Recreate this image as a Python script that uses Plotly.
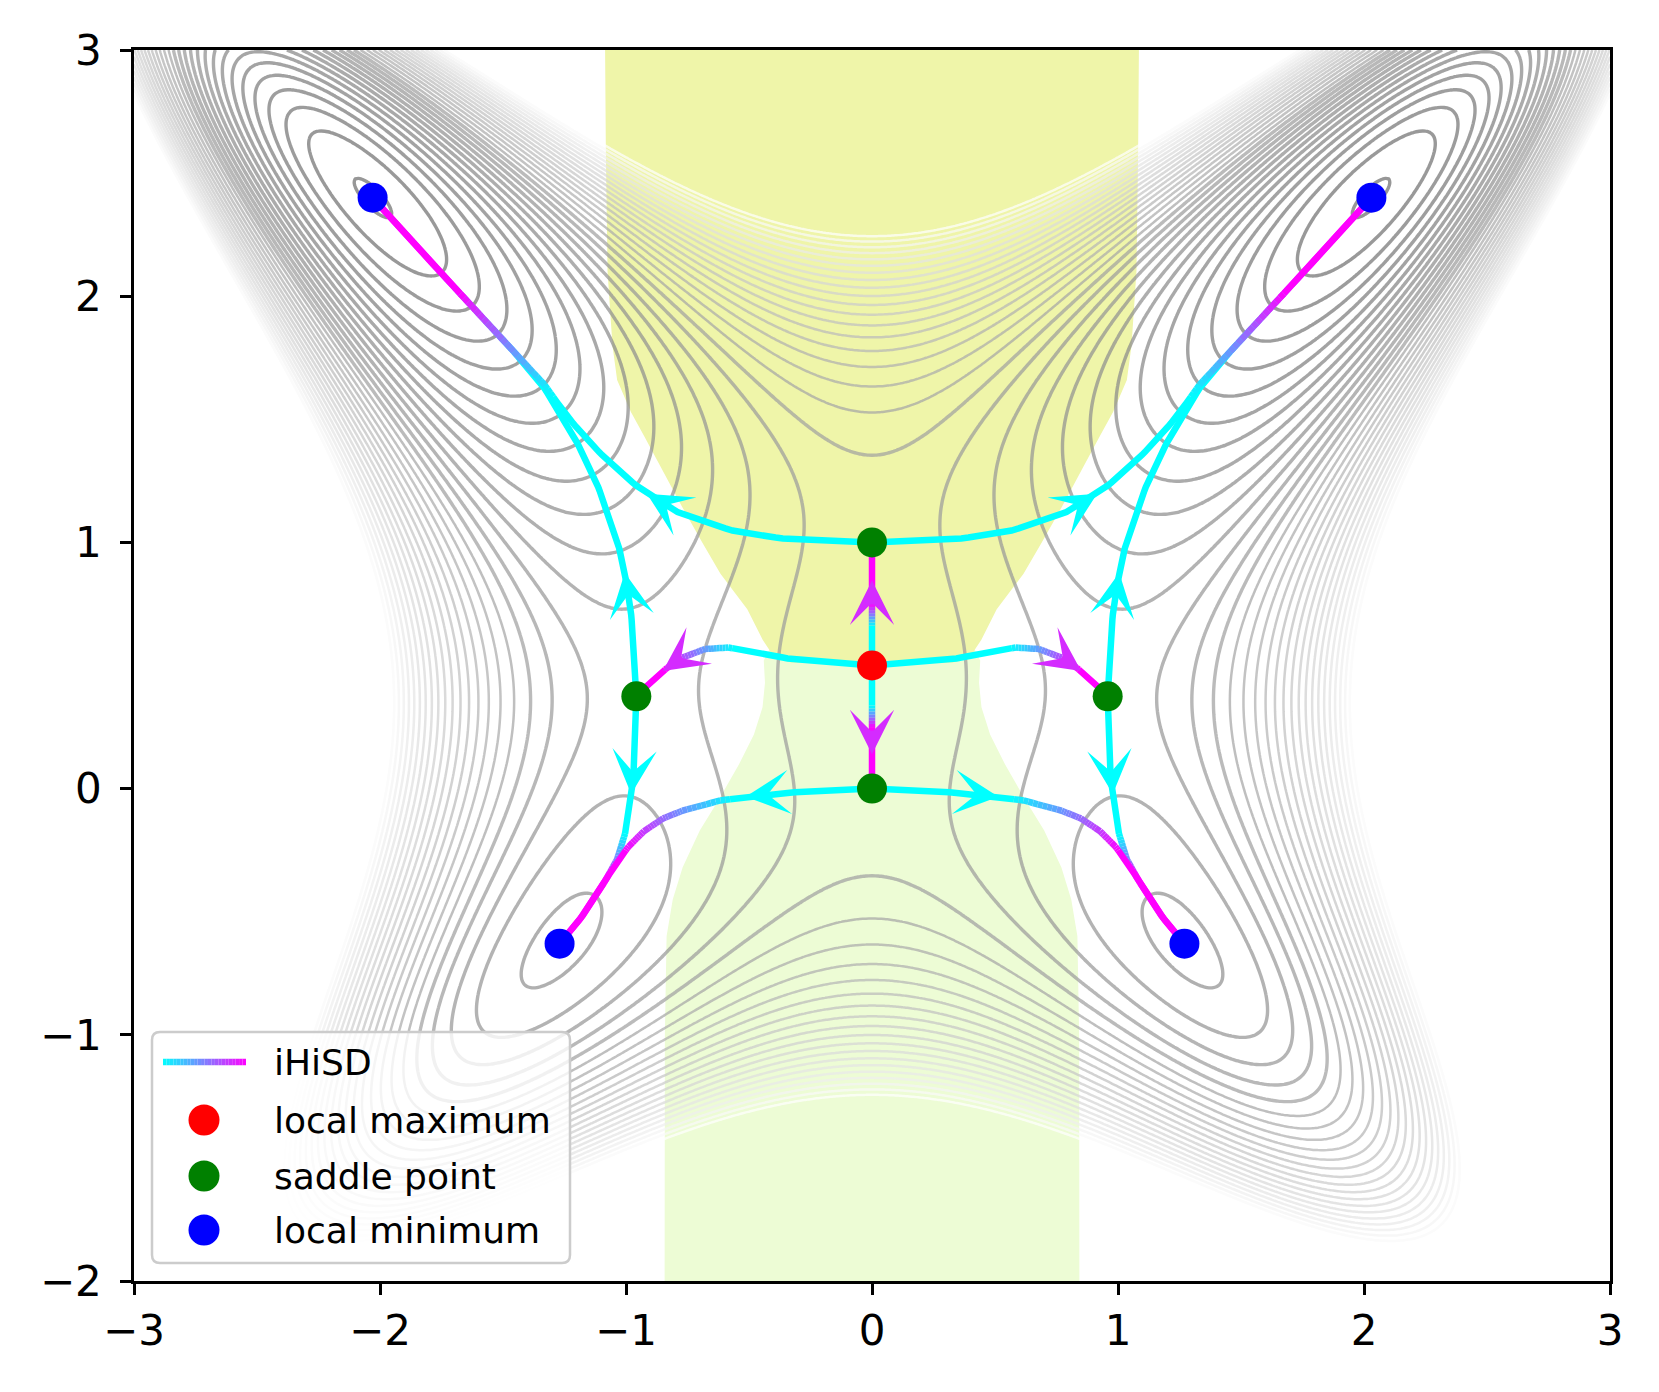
import numpy as np
import plotly.graph_objects as go

# ---- critical points ----
max_x = [0.0]
max_y = [0.5]
saddle_x = [0.0, 0.0, -0.958, 0.958]
saddle_y = [1.0, 0.0, 0.375, 0.375]
min_x = [-2.03, 2.03, -1.27, 1.27]
min_y = [2.40, 2.40, -0.63, -0.63]

# ---- energy landscape: E = (x^2 - (c0 + c1 y + c2 y^2))^2 + d1 y + d2 y^2 + d3 y^3 + d4 y^4
valley = [1.0, -0.5, 0.75]
tilt = [1.0, -0.75, -1.25, 0.4375]
level_start, level_end, level_step = -4.65, 9.2, 0.42

# ---- iHiSD trajectories, left half ----
p1_x = [0.0, -0.304, -0.538, -0.771, -0.927, -1.051, -1.144, -1.238, -1.331, -1.456, -1.580, -1.705, -1.860, -2.03]
p1_y = [1.0, 1.008, 1.039, 1.112, 1.205, 1.308, 1.402, 1.510, 1.640, 1.775, 1.909, 2.044, 2.212, 2.40]
p3_x = [-0.958, -0.966, -0.981, -1.004, -1.028, -1.067, -1.113, -1.168, -1.238, -1.331, -1.456, -1.580, -1.705, -1.860, -2.03]
p3_y = [0.375, 0.563, 0.728, 0.873, 0.977, 1.101, 1.225, 1.350, 1.474, 1.625, 1.775, 1.909, 2.044, 2.212, 2.40]
p4_x = [-0.958, -0.961, -0.970, -0.986, -1.004, -1.036, -1.082, -1.144, -1.207, -1.27]
p4_y = [0.375, 0.210, 0.045, -0.080, -0.183, -0.287, -0.370, -0.473, -0.556, -0.63]
p5_x = [0.0, -0.227, -0.460, -0.616, -0.771, -0.849, -0.927, -0.989, -1.036, -1.082, -1.144, -1.207, -1.27]
p5_y = [0.0, -0.007, -0.028, -0.048, -0.090, -0.121, -0.173, -0.235, -0.297, -0.370, -0.473, -0.556, -0.63]
p6_x = [0.0, -0.304, -0.460, -0.584, -0.678, -0.771, -0.833, -0.896, -0.958]
p6_y = [0.5, 0.521, 0.552, 0.573, 0.567, 0.532, 0.490, 0.438, 0.375]
# right half
q1_x = [0.0, 0.304, 0.538, 0.771, 0.927, 1.051, 1.144, 1.238, 1.331, 1.456, 1.580, 1.705, 1.860, 2.03]
q1_y = [1.0, 1.008, 1.039, 1.112, 1.205, 1.308, 1.402, 1.510, 1.640, 1.775, 1.909, 2.044, 2.212, 2.40]
q3_x = [0.958, 0.966, 0.981, 1.004, 1.028, 1.067, 1.113, 1.168, 1.238, 1.331, 1.456, 1.580, 1.705, 1.860, 2.03]
q3_y = [0.375, 0.563, 0.728, 0.873, 0.977, 1.101, 1.225, 1.350, 1.474, 1.625, 1.775, 1.909, 2.044, 2.212, 2.40]
q4_x = [0.958, 0.961, 0.970, 0.986, 1.004, 1.036, 1.082, 1.144, 1.207, 1.27]
q4_y = [0.375, 0.210, 0.045, -0.080, -0.183, -0.287, -0.370, -0.473, -0.556, -0.63]
q5_x = [0.0, 0.227, 0.460, 0.616, 0.771, 0.849, 0.927, 0.989, 1.036, 1.082, 1.144, 1.207, 1.27]
q5_y = [0.0, -0.007, -0.028, -0.048, -0.090, -0.121, -0.173, -0.235, -0.297, -0.370, -0.473, -0.556, -0.63]
q6_x = [0.0, 0.304, 0.460, 0.584, 0.678, 0.771, 0.833, 0.896, 0.958]
q6_y = [0.5, 0.521, 0.552, 0.573, 0.567, 0.532, 0.490, 0.438, 0.375]
# vertical ones from the maximum
p7_x = [0.0, 0.0, 0.0, 0.0, 0.0, 0.0]
p7_y = [0.5, 0.6, 0.7, 0.8, 0.9, 1.0]
p8_x = [0.0, 0.0, 0.0, 0.0, 0.0, 0.0]
p8_y = [0.5, 0.4, 0.3, 0.2, 0.1, 0.0]

# arrows on the trajectories (tip, tail)
arr_tip_x = [-0.915, -1.005, -0.979, -0.514, -0.85, 0.915, 1.005, 0.979, 0.514, 0.85, 0.0, 0.0]
arr_tip_y = [1.198, 0.877, -0.022, -0.033, 0.478, 1.198, 0.877, -0.022, -0.033, 0.478, 0.845, 0.14]
arr_tail_x = [-0.771, -0.981, -0.961, -0.30, -0.78, 0.771, 0.981, 0.961, 0.30, 0.78, 0.0, 0.0]
arr_tail_y = [1.112, 0.728, 0.21, -0.01, 0.527, 1.112, 0.728, 0.21, -0.01, 0.527, 0.76, 0.225]
arr_late = [False, False, False, False, True, False, False, False, False, True, True, True]

# shaded regions (left boundary, mirrored for the right)
top_left_x = [-1.085, -1.082, -1.075, -1.055, -1.036, -0.98, -0.927, -0.85, -0.771, -0.69, -0.616, -0.507, -0.444, -0.398, -0.33, 0.0]
top_left_y = [3.0, 2.6, 2.1, 1.8, 1.66, 1.53, 1.433, 1.29, 1.143, 1.0, 0.873, 0.728, 0.604, 0.535, 0.512, 0.505]
bot_left_x = [-0.843, -0.842, -0.835, -0.81, -0.77, -0.70, -0.62, -0.54, -0.48, -0.445, -0.435, -0.44, -0.40, 0.0]
bot_left_y = [-2.0, -1.0, -0.6, -0.45, -0.32, -0.17, -0.04, 0.10, 0.22, 0.33, 0.43, 0.52, 0.60, 0.60]

x_ticks = [-3, -2, -1, 0, 1, 2, 3]
x_labels = ["\u22123", "\u22122", "\u22121", "0", "1", "2", "3"]
y_ticks = [-2, -1, 0, 1, 2, 3]
y_labels = ["\u22122", "\u22121", "0", "1", "2", "3"]

legend_names = ["iHiSD", "local maximum", "saddle point", "local minimum"]

FONT = "DejaVu Sans"
W, H = 1659, 1392
OFF = 8                      # page body margin
PL, PR, PT, PB = 134, 1610, 50, 1281   # plot box on screen
L, R, T, B = PL - OFF, W - PR + OFF, PT - OFF, H - PB + OFF


def cool(t):
    return "rgb(%d,%d,255)" % (round(255 * t), round(255 * (1 - t)))


# gray of a contour line vs its (normalised) level
gray_t = [0.0, 0.4, 0.7, 1.0]
gray_v = [112, 158, 208, 255]


def gray_at(e):
    t = (e - level_start) / (level_end - level_start)
    g = np.interp(t, gray_t, gray_v)
    return "rgb(%d,%d,%d)" % (g, g, g)


def poly_path(xs, ys):
    return "M " + " L ".join("%.4f,%.4f" % (a, b) for a, b in zip(xs, ys)) + " Z"


fig = go.Figure()
shapes = []

# green / yellow regions, below the contour lines
bx = bot_left_x + [-v for v in bot_left_x[::-1]]
by = bot_left_y + bot_left_y[::-1]
shapes.append(dict(type="path", xref="x", yref="y", layer="below", path=poly_path(bx, by),
                   fillcolor="#edfcd5", line=dict(width=0)))
tx = top_left_x + [-v for v in top_left_x[::-1]]
ty = top_left_y + top_left_y[::-1]
shapes.append(dict(type="path", xref="x", yref="y", layer="below", path=poly_path(tx, ty),
                   fillcolor="#eff5a9", line=dict(width=0)))

# contour lines of the landscape
gx = np.linspace(-3, 3, 481)
gy = np.linspace(-2, 3, 401)
X, Y = np.meshgrid(gx, gy)
Z = (X**2 - (valley[0] + valley[1] * Y + valley[2] * Y**2))**2 \
    + tilt[0] * Y + tilt[1] * Y**2 + tilt[2] * Y**3 + tilt[3] * Y**4
split = level_start + 14 * level_step
for lo, hi, lw in [(level_start, split, 3.4), (split + level_step, level_end, 2.5)]:
    cs = [[f, gray_at(lo + f * (hi - lo))] for f in np.linspace(0, 1, 9)]
    fig.add_trace(go.Contour(
        x=gx, y=gy, z=Z, autocontour=False,
        contours=dict(start=lo, end=hi + 1e-6, size=level_step, coloring="lines"),
        colorscale=cs, zmin=lo, zmax=hi, zauto=False,
        line=dict(width=lw), opacity=0.72, showscale=False, hoverinfo="skip"))

# trajectories, coloured cyan -> magenta along the run
paths = [
    (p1_x, p1_y, 0.58, 0.80), (q1_x, q1_y, 0.58, 0.80),
    (p3_x, p3_y, 0.62, 0.85), (q3_x, q3_y, 0.62, 0.85),
    (p4_x, p4_y, 0.52, 0.72), (q4_x, q4_y, 0.52, 0.72),
    (p5_x, p5_y, 0.37, 0.70), (q5_x, q5_y, 0.37, 0.70),
    (p6_x, p6_y, 0.55, 0.85), (q6_x, q6_y, 0.55, 0.85),
    (p7_x, p7_y, 0.32, 0.50), (p8_x, p8_y, 0.33, 0.50),
]
NB = 40
SUB = 8
bins = {k: ([], []) for k in range(NB + 1)}
for xs, ys, a, b in paths:
    xs = np.asarray(xs, float)
    ys = np.asarray(ys, float)
    d = np.hypot(np.diff(xs), np.diff(ys))
    s = np.concatenate([[0], np.cumsum(d)]) / d.sum()
    cur_k, run_x, run_y = None, [], []
    for i in range(len(xs) - 1):
        for j in range(SUB):
            f0, f1 = j / SUB, (j + 1) / SUB
            x0 = xs[i] + (xs[i + 1] - xs[i]) * f0
            y0 = ys[i] + (ys[i + 1] - ys[i]) * f0
            x1 = xs[i] + (xs[i + 1] - xs[i]) * f1
            y1 = ys[i] + (ys[i + 1] - ys[i]) * f1
            sm = s[i] + (s[i + 1] - s[i]) * (f0 + f1) / 2
            t = min(max((sm - a) / (b - a), 0), 1)
            k = int(round(t * NB))
            if k != cur_k:
                if cur_k is not None:
                    bins[cur_k][0].extend(run_x + [None])
                    bins[cur_k][1].extend(run_y + [None])
                cur_k, run_x, run_y = k, [x0], [y0]
            run_x.append(x1)
            run_y.append(y1)
    bins[cur_k][0].extend(run_x + [None])
    bins[cur_k][1].extend(run_y + [None])

for k, (bxs, bys) in bins.items():
    if not bxs:
        continue
    fig.add_trace(go.Scatter(x=bxs, y=bys, mode="lines",
                             line=dict(color=cool(k / NB), width=6.5),
                             hoverinfo="skip", showlegend=False))

# critical points
for px, py, col in [(max_x, max_y, "#ff0000"), (saddle_x, saddle_y, "#008000"), (min_x, min_y, "#0000ff")]:
    fig.add_trace(go.Scatter(x=px, y=py, mode="markers",
                             marker=dict(color=col, size=30, line=dict(width=0)),
                             hoverinfo="skip", showlegend=False))

annotations = []
for i in range(len(arr_tip_x)):
    annotations.append(dict(
        x=arr_tip_x[i], y=arr_tip_y[i], ax=arr_tail_x[i], ay=arr_tail_y[i],
        xref="x", yref="y", axref="x", ayref="y", text="", showarrow=True,
        arrowhead=3, arrowsize=3.7, arrowwidth=2, standoff=0,
        arrowcolor="rgb(212,43,255)" if arr_late[i] else "#00ffff"))


# ---- hand-made legend (screen pixel positions converted to paper coords) ----
def px2x(p):
    return (p - PL) / (PR - PL)


def px2y(p):
    return (PB - p) / (PB - PT)


x0, x1 = px2x(152), px2x(570)
y0, y1 = px2y(1263), px2y(1032)
rx, ry = 8 / (PR - PL), 8 / (PB - PT)
shapes.append(dict(
    type="path", xref="paper", yref="paper", layer="above",
    path=(f"M {x0 + rx},{y0} L {x1 - rx},{y0} Q {x1},{y0} {x1},{y0 + ry} "
          f"L {x1},{y1 - ry} Q {x1},{y1} {x1 - rx},{y1} L {x0 + rx},{y1} "
          f"Q {x0},{y1} {x0},{y1 - ry} L {x0},{y0 + ry} Q {x0},{y0} {x0 + rx},{y0} Z"),
    fillcolor="rgba(255,255,255,0.8)", line=dict(color="#cccccc", width=2.5)))

row_y = [1062, 1120, 1176, 1230]
nseg = 24
h0, h1 = 163, 246
for j in range(nseg):
    shapes.append(dict(type="line", xref="paper", yref="paper", layer="above",
                       x0=px2x(h0 + (h1 - h0) * j / nseg), x1=px2x(h0 + (h1 - h0) * (j + 1) / nseg),
                       y0=px2y(row_y[0]), y1=px2y(row_y[0]),
                       line=dict(color=cool((j + 0.5) / nseg), width=6.5)))
for ry_, col in zip(row_y[1:], ["#ff0000", "#008000", "#0000ff"]):
    shapes.append(dict(type="circle", xref="paper", yref="paper", layer="above",
                       xsizemode="pixel", ysizemode="pixel",
                       xanchor=px2x(204), yanchor=px2y(ry_),
                       x0=-15.5, x1=15.5, y0=-15.5, y1=15.5,
                       fillcolor=col, line=dict(width=0)))
for name, ry_ in zip(legend_names, row_y):
    annotations.append(dict(x=px2x(272), y=px2y(ry_), xref="paper", yref="paper",
                            text=name, showarrow=False, xanchor="left", yanchor="middle",
                            font=dict(family=FONT, size=36, color="black")))

axis_style = dict(showgrid=False, zeroline=False, showline=True, linecolor="black",
                  linewidth=2.5, mirror=True, ticks="outside", ticklen=11, tickwidth=2.5,
                  tickcolor="black", tickfont=dict(family=FONT, size=42, color="black"))

fig.update_layout(
    width=W, height=H,
    margin=dict(l=L, r=R, t=T, b=B, pad=0),
    plot_bgcolor="white", paper_bgcolor="white",
    showlegend=False,
    xaxis=dict(range=[-3, 3], tickvals=x_ticks, ticktext=x_labels, **axis_style),
    yaxis=dict(range=[-2, 3], tickvals=y_ticks, ticktext=y_labels, ticklabelstandoff=10, **axis_style),
    shapes=shapes,
    annotations=annotations,
)

fig.write_html("out.html")
